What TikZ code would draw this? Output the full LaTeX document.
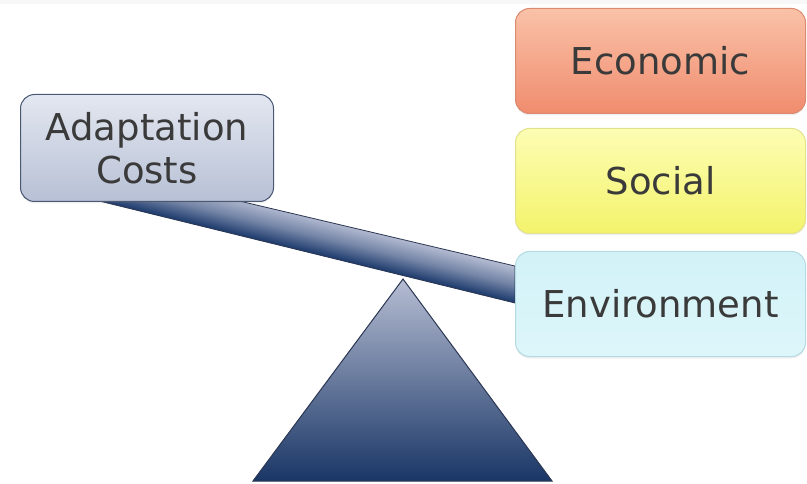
\documentclass[tikz,border=0pt]{standalone}
\usepackage{fontspec}
\setmainfont{DejaVu Sans}
\usetikzlibrary{shadows}
\definecolor{textgray}{HTML}{3A3A3A}
\definecolor{navy}{HTML}{1B396B}
\definecolor{steel}{HTML}{B6BDD3}
\definecolor{edge}{HTML}{2A3652}
\definecolor{costtop}{HTML}{E3E7F0}
\definecolor{costbot}{HTML}{B7C0D5}
\definecolor{costline}{HTML}{4A5873}
\definecolor{ecotop}{HTML}{FAC2A8}
\definecolor{ecobot}{HTML}{F08C6E}
\definecolor{ecoline}{HTML}{D98A6F}
\definecolor{soctop}{HTML}{FDFDB4}
\definecolor{socbot}{HTML}{F3F36C}
\definecolor{socline}{HTML}{E2E28C}
\definecolor{envtop}{HTML}{D2F2F8}
\definecolor{envbot}{HTML}{DDF6FA}
\definecolor{envline}{HTML}{B5DAE2}
\begin{document}
\begin{tikzpicture}[x=1pt,y=-1pt,
  box/.style={rectangle, rounded corners=14pt, line width=1pt, anchor=north west,
    inner sep=0pt, align=center, text=textgray,
    font=\fontsize{37}{45}\selectfont,
    drop shadow={opacity=0.12, shadow xshift=0pt, shadow yshift=-2pt}},
  wide/.style={minimum width=290pt, minimum height=105pt}]
\useasboundingbox (0,0) rectangle (807,484);
% faint grey strip along the top edge
\fill[black!3] (0,0) rectangle (807,4);

% lever beam, widening slightly to the right, shaded across its thickness
\shade[transform canvas={shift={(95,200)}, rotate=-13.78},
  top color=steel, bottom color=navy, middle color=steel!58!navy,
  draw=edge, line width=0.8pt]
  (0,0) -- (432.4,0) -- (423.6,-35.9) -- (-7.9,-32.1) -- cycle;

% fulcrum
\shade[top color=steel, bottom color=navy!95!black, draw=edge, line width=1pt]
  (403,279) -- (552,481) -- (253,481) -- cycle;

% load on the left end
\node[box, minimum width=253pt, minimum height=107pt,
  top color=costtop, bottom color=costbot, draw=costline]
  (costs) at (20,94) {Adaptation\\[-2pt]Costs};

% stacked loads on the right end
\node[box, wide, top color=ecotop, bottom color=ecobot, draw=ecoline]
  (eco) at (515,8) {Economic};
\node[box, wide, top color=soctop, bottom color=socbot, draw=socline]
  (soc) at (515,128) {Social};
\node[box, wide, top color=envtop, bottom color=envbot, draw=envline]
  (env) at (515,251) {Environment};
\end{tikzpicture}
\end{document}
